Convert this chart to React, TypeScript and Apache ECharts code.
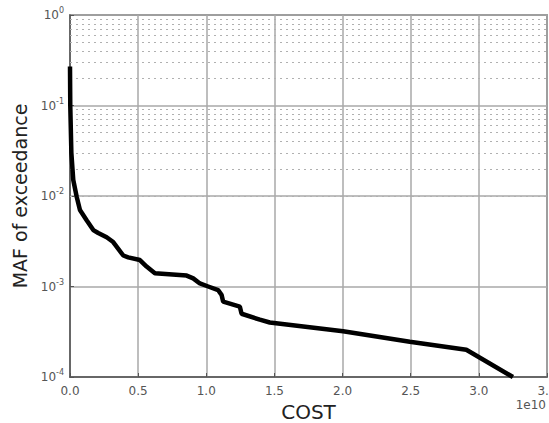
import React, { useEffect, useRef } from "react";
import * as echarts from "echarts";

// COST in units of 1e10
const cost = [0, 0.002, 0.01, 0.024, 0.049, 0.073, 0.122, 0.171, 0.207, 0.269, 0.317, 0.391, 0.427, 0.513, 0.562, 0.623, 0.856, 0.904, 0.953, 1.014, 1.087, 1.112, 1.124, 1.246, 1.259, 1.393, 1.466, 2.004, 2.493, 2.908, 3.25];
const maf = [0.27, 0.1, 0.03, 0.015, 0.0098, 0.007, 0.0054, 0.0042, 0.0039, 0.0035, 0.0031, 0.0022, 0.0021, 0.00196, 0.00166, 0.0014, 0.00132, 0.00123, 0.00108, 0.001, 0.00091, 0.00081, 0.00068, 0.0006, 0.0005, 0.00043, 0.0004, 0.00032, 0.000245, 0.0002, 0.0001];
const minorLevels = [2, 3, 4, 5, 6, 7, 8, 9];
const decades = [1e-4, 1e-3, 1e-2, 1e-1];

export default function App() {
  const ref = useRef<HTMLDivElement>(null);
  useEffect(() => {
    const chart = echarts.init(ref.current!, null, { renderer: "svg" });
    const minorLines: any[] = [];
    decades.forEach((d) => minorLevels.forEach((m) => minorLines.push({ yAxis: d * m })));
    const font = "DejaVu Sans";
    chart.setOption({
      animation: false,
      backgroundColor: "#fff",
      grid: { left: 70, right: 2, top: 15, bottom: 46, show: true, borderColor: "#555", borderWidth: 1.5, outerBoundsMode: "none", containLabel: false },
      xAxis: {
        type: "value",
        min: 0,
        max: 3.5,
        interval: 0.5,
        name: "COST",
        nameLocation: "middle",
        nameGap: 22,
        nameTextStyle: { fontFamily: font, fontSize: 20, color: "#222", verticalAlign: "top" },
        axisLine: { show: true, lineStyle: { color: "#555", width: 1.5 } },
        axisTick: { show: true, inside: true, length: 4, lineStyle: { color: "#555" } },
        axisLabel: { formatter: (v: number) => v.toFixed(1), fontFamily: font, fontSize: 12, color: "#555", margin: 8, hideOverlap: false },
        splitLine: { show: true, lineStyle: { color: "#a8a8a8", width: 1.5 } },
      },
      yAxis: {
        type: "log",
        logBase: 10,
        min: 1e-4,
        max: 1,
        name: "MAF of exceedance",
        nameLocation: "middle",
        nameGap: 38,
        nameTextStyle: { fontFamily: font, fontSize: 19, color: "#222" },
        axisLine: { show: true, lineStyle: { color: "#555", width: 1.5 } },
        axisTick: { show: true, inside: true, length: 4, lineStyle: { color: "#555" } },
        axisLabel: {
          margin: 6,
          formatter: (v: number) => `{b|10}{s|${Math.round(Math.log10(v))}}`,
          rich: {
            b: { fontFamily: font, fontSize: 12, color: "#555" },
            s: { fontFamily: font, fontSize: 8, color: "#555", verticalAlign: "bottom", padding: [0, 0, 9, 0] },
          },
        },
        splitLine: { show: true, lineStyle: { color: "#a8a8a8", width: 1.5 } },
      },
      graphic: [
        { type: "text", right: 3, top: 399, style: { text: "1e10", fontFamily: font, fontSize: 12, fill: "#555" } },
      ],
      series: [
        {
          type: "line",
          data: cost.map((c, i) => [c, maf[i]]),
          symbol: "none",
          lineStyle: { color: "#000", width: 4.5 },
          z: 5,
          markLine: {
            silent: true,
            symbol: "none",
            label: { show: false },
            lineStyle: { color: "#b0b0b0", type: [2, 4], width: 1.2 },
            data: minorLines,
            z: 1,
          },
        },
      ],
    });
    return () => chart.dispose();
  }, []);
  return <div ref={ref} style={{ width: 549, height: 423, position: "absolute", left: 0, top: 0 }} />;
}
